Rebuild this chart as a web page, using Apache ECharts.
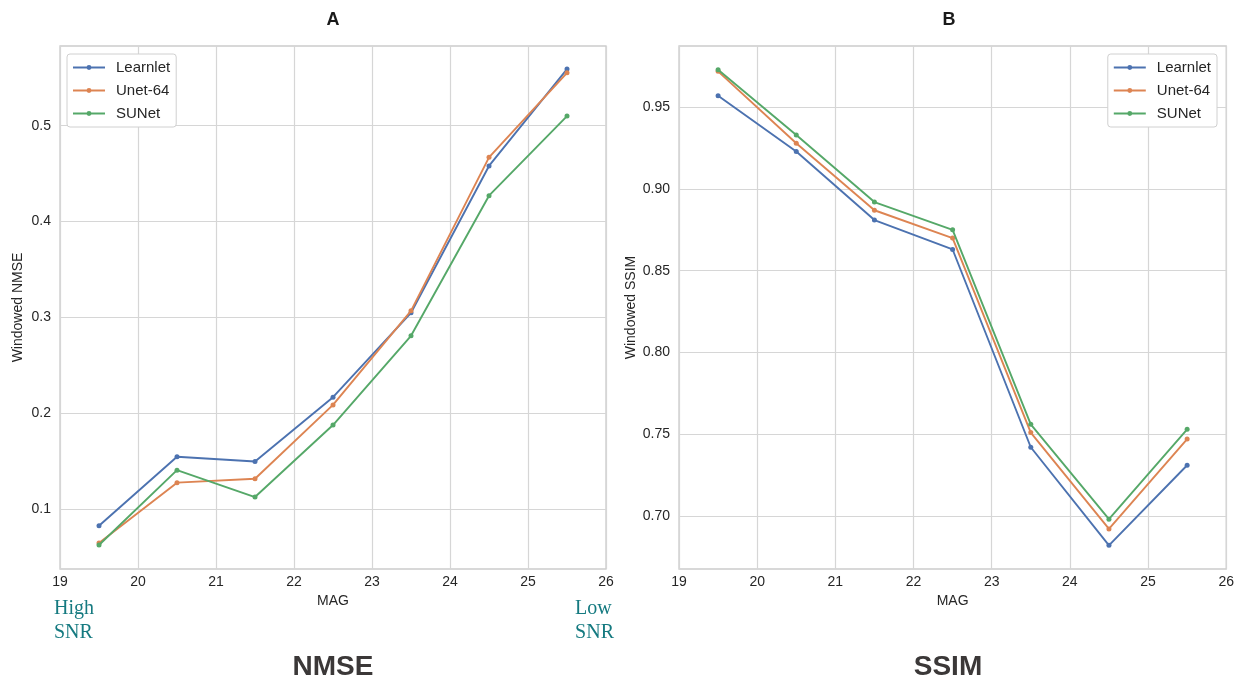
<!DOCTYPE html>
<html>
<head>
<meta charset="utf-8">
<script src="https://cdn.jsdelivr.net/npm/echarts@6/dist/echarts.min.js"></script>
<style>html,body{margin:0;padding:0;background:#fff;}#c{width:1237px;height:680px;}</style>
</head>
<body>
<div id="c"></div>
<script>
const mags = [19.5, 20.5, 21.5, 22.5, 23.5, 24.5, 25.5];
const seriesNames = ['Learnlet', 'Unet-64', 'SUNet'];
const nmseLearnlet = [0.083, 0.155, 0.150, 0.217, 0.305, 0.458, 0.559];
const nmseUnet = [0.065, 0.128, 0.132, 0.209, 0.307, 0.467, 0.555];
const nmseSUNet = [0.063, 0.141, 0.113, 0.188, 0.281, 0.427, 0.510];
const ssimLearnlet = [0.957, 0.923, 0.881, 0.863, 0.742, 0.682, 0.731];
const ssimUnet = [0.972, 0.928, 0.887, 0.870, 0.751, 0.692, 0.747];
const ssimSUNet = [0.973, 0.933, 0.892, 0.875, 0.756, 0.698, 0.753];
const xTicks = [19, 20, 21, 22, 23, 24, 25, 26];
const nmseTicks = [0.1, 0.2, 0.3, 0.4, 0.5];
const ssimTicks = [0.70, 0.75, 0.80, 0.85, 0.90, 0.95];

const colors = ['#4c72b0', '#dd8452', '#55a868'];
const font = 'Liberation Sans, Arial, sans-serif';
const pair = arr => mags.map((m, i) => [m, arr[i]]);

function xAxis(gi) {
  return {
    type: 'value', gridIndex: gi, min: 19, max: 26, interval: 1,
    name: 'MAG', nameLocation: 'middle', nameGap: 22,
    nameTextStyle: { fontFamily: font, fontSize: 14, color: '#262626' },
    axisLine: { show: false }, axisTick: { show: false },
    axisLabel: { fontFamily: font, fontSize: 14, color: '#262626', margin: 6 },
    splitLine: { show: true, lineStyle: { color: '#d6d6d6', width: 1.2 } }
  };
}
function yAxis(gi, min, max, ticks, name, gap, dec) {
  return {
    type: 'value', gridIndex: gi, min: min, max: max,
    name: name, nameLocation: 'middle', nameGap: gap,
    nameTextStyle: { fontFamily: font, fontSize: 14, color: '#262626' },
    axisLine: { show: false },
    axisTick: { show: false, customValues: ticks },
    axisLabel: { fontFamily: font, fontSize: 14, color: '#262626', margin: 9,
      customValues: ticks, formatter: v => v.toFixed(dec) },
    splitLine: { show: true, lineStyle: { color: '#d6d6d6', width: 1.2 } }
  };
}
function line(name, data, gi, ci) {
  return {
    type: 'line', name: name, xAxisIndex: gi, yAxisIndex: gi, data: pair(data),
    symbol: 'circle', symbolSize: 5, showSymbol: true,
    lineStyle: { color: colors[ci], width: 1.9 },
    itemStyle: { color: colors[ci] }, emphasis: { disabled: true },
    z: 3 + ci
  };
}
function legend(pos) {
  return Object.assign({
    orient: 'vertical', top: 54, data: seriesNames,
    itemWidth: 32, itemHeight: 6, itemGap: 8,
    backgroundColor: '#ffffff', borderColor: '#d0d0d0', borderWidth: 1, borderRadius: 3,
    padding: [6, 6, 6, 5],
    textStyle: { fontFamily: font, fontSize: 15, color: '#262626', padding: [0, 0, 0, 6], height: 14, lineHeight: 14 }
  }, pos);
}

const chart = echarts.init(document.getElementById('c'), null, { renderer: 'canvas' });
chart.setOption({
  animation: false,
  backgroundColor: '#ffffff',
  color: colors,
  title: [
    { text: 'A', left: 328, top: 6, textAlign: 'center', textStyle: { fontFamily: font, fontSize: 18, fontWeight: 'bold', color: '#1a1a1a' } },
    { text: 'B', left: 944, top: 6, textAlign: 'center', textStyle: { fontFamily: font, fontSize: 18, fontWeight: 'bold', color: '#1a1a1a' } },
    { text: 'NMSE', left: 328, top: 648, textAlign: 'center', textStyle: { fontFamily: font, fontSize: 28, fontWeight: 'bold', color: '#3b3838' } },
    { text: 'SSIM', left: 943, top: 648, textAlign: 'center', textStyle: { fontFamily: font, fontSize: 28, fontWeight: 'bold', color: '#3b3838' } }
  ],
  graphic: [
    { type: 'text', left: 54, top: 597, style: { text: 'High\nSNR', font: '20px "Liberation Serif", serif', fill: '#157a80', lineHeight: 24 } },
    { type: 'text', right: 623, top: 597, style: { text: 'Low\nSNR', font: '20px "Liberation Serif", serif', fill: '#157a80', lineHeight: 24, align: 'right' } }
  ],
  legend: [legend({ left: 67 }), legend({ right: 20 })],
  grid: [
    { left: 60, right: 631, top: 46, bottom: 111, show: true, borderColor: '#cccccc', borderWidth: 1.3, backgroundColor: '#ffffff' },
    { left: 679, right: 8, top: 46, bottom: 111, show: true, borderColor: '#cccccc', borderWidth: 1.3, backgroundColor: '#ffffff' }
  ],
  xAxis: [xAxis(0), xAxis(1)],
  yAxis: [
    yAxis(0, 0.038, 0.583, nmseTicks, 'Windowed NMSE', 35, 1),
    yAxis(1, 0.6675, 0.9875, ssimTicks, 'Windowed SSIM', 41, 2)
  ],
  series: [
    line('Learnlet', nmseLearnlet, 0, 0),
    line('Unet-64', nmseUnet, 0, 1),
    line('SUNet', nmseSUNet, 0, 2),
    line('Learnlet', ssimLearnlet, 1, 0),
    line('Unet-64', ssimUnet, 1, 1),
    line('SUNet', ssimSUNet, 1, 2)
  ]
});
</script>
</body>
</html>
